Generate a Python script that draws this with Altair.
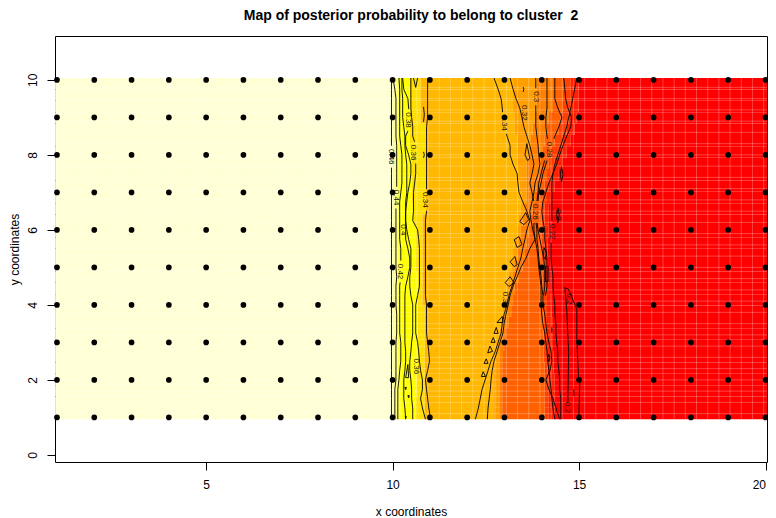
import altair as alt
import pandas as pd
import numpy as np

FONT = "Liberation Sans"
TITLE = "Map of posterior probability to belong to cluster\u00a0 2"

# ---- observation sites
site_x = list(range(1, 21))
site_y = list(range(1, 11))

# ---- image bands: for each of 30 rows (top to bottom) the x where each colour starts
band_colors = ["#FFFFD5", "#FFFF80", "#FFFF2A", "#FFFF00", "#FFDF00", "#FFB700",
               "#FF9F00", "#FF8000", "#FF6000", "#FF4000", "#FF2000", "#FF0000"]
s_80 = [10.0] * 30
s_2a = [10.15] * 30
s_00 = [10.25] * 30
s_df = [10.46,10.46,10.46,10.46,10.46,10.46,10.51,10.51,10.51,10.51,10.51,10.56,10.56,10.62,10.62,
        10.62,10.62,10.67,10.67,10.67,10.67,10.67,10.67,10.67,10.67,10.67,10.64,10.64,10.62,10.62]
s_bf = [10.75,10.75,10.75,10.75,10.88,10.88,10.88,10.88,10.88,10.88,10.88,10.88,10.80,10.80,10.80,
        10.80,10.80,10.80,10.80,10.80,10.86,10.86,10.86,10.86,10.86,10.86,10.86,10.86,10.86,10.86]
s_9f = [13.23,13.23,13.23,13.28,13.28,13.34,13.34,13.34,13.39,13.41,13.47,13.44,13.39,13.34,13.28,
        13.23,13.18,13.12,13.07,13.02,12.96,12.91,12.86,12.80,12.75,12.72,12.72,12.72,12.72,12.72]
s_80b = [13.87,13.87,13.87,13.82,13.76,13.71,13.66,13.60,13.60,13.60,13.60,13.55,13.49,13.44,13.39,
         13.34,13.28,13.23,13.18,13.12,13.07,12.99,12.94,12.88,12.86,12.86,12.86,12.86,12.86,12.86]
s_60 = [14.30,14.30,14.30,14.19,14.14,14.08,14.03,13.98,13.92,13.87,13.82,13.76,13.71,13.66,13.60,
        13.55,13.49,13.39,13.28,13.23,13.18,13.12,13.04,12.99,12.96,12.94,12.94,12.94,12.94,12.94]
s_40 = [14.57,14.57,14.57,14.51,14.46,14.35,14.27,14.19,14.14,14.08,14.03,14.00,14.00,14.00,14.00,
        14.00,14.03,14.03,14.03,14.03,14.05,14.05,14.05,14.05,14.05,14.08,14.08,14.08,14.08,14.08]
s_20 = [14.78,14.78,14.78,14.72,14.67,14.57,14.46,14.35,14.30,14.19,14.14,14.08,14.08,14.08,14.08,
        14.08,14.08,14.11,14.11,14.14,14.14,14.14,14.14,14.14,14.14,14.16,14.19,14.19,14.19,14.19]
s_ff = [14.99,14.99,14.99,14.94,14.88,14.78,14.67,14.57,14.46,14.35,14.27,14.19,14.19,14.19,14.16,
        14.16,14.16,14.19,14.22,14.25,14.27,14.30,14.30,14.30,14.32,14.32,14.35,14.35,14.35,14.35]
band_starts = [s_80, s_2a, s_00, s_df, s_bf, s_9f, s_80b, s_60, s_40, s_20, s_ff]

# ---- contour lines: x at each of these y (a shorter list stops where the line ends)
cy = [10.05,9.75,9.5,9.25,9,8.75,8.5,8.25,8,7.75,7.5,7.25,7,6.75,6.5,6.25,6,5.75,5.5,5.25,5,
      4.75,4.5,4.25,4,3.75,3.5,3.25,3,2.75,2.5,2.25,2,1.75,1.5,1.25,0.95]
c46 = [9.97] * 37
c44 = [10.01,10.06,10.09,10.09,10.09,10.09,10.09,10.11,10.11,10.11,10.11,10.11,10.11,10.09,10.09,10.09,10.09,10.09,10.09,
       10.09,10.09,10.11,10.09,10.09,10.09,10.11,10.11,10.11,10.09,10.09,10.09,10.09,10.09,10.06,10.06,10.06,10.06]
c42 = [10.17,10.19,10.19,10.19,10.19,10.19,10.19,10.22,10.25,10.25,10.25,10.25,10.22,10.19,10.19,10.19,10.19,10.19,10.22,
       10.22,10.22,10.22,10.19,10.19,10.19,10.19,10.19,10.19,10.22,10.22,10.22,10.19,10.17,10.14,10.14,10.14,10.14]
c40 = [10.25,10.25,10.27,10.27,10.27,10.30,10.33,10.33,10.35,10.38,10.38,10.38,10.38,10.35,10.35,10.35,10.35,10.35,10.41,
       10.46,10.46,10.41,10.35,10.33,10.33,10.33,10.33,10.33,10.33,10.35,10.35,10.33,10.30,10.30,10.30,10.33,10.35]
c38 = [10.27,10.30,10.41,10.43,10.46,10.46,10.35,10.35,10.43,10.49,10.49,10.46,10.41,10.38,10.35,10.35,10.38,10.43,10.49,
       10.49,10.49,10.46,10.46,10.49,10.54,10.54,10.54,10.54,10.51,10.49,10.46,10.46,10.49,10.51,10.51,10.54,10.54]
c36 = [10.49,10.49,10.49,10.49,10.51,10.54,10.54,10.62,10.62,10.62,10.62,10.59,10.56,10.56,10.56,10.54,10.67,10.70,10.72,
       10.72,10.72,10.72,10.72,10.67,10.62,10.62,10.62,10.62,10.67,10.70,10.72,10.75,10.80,10.80,10.75,10.80,10.88]
c34a = [10.94,10.94,10.94,10.94,10.94,10.91,10.91,10.91,10.91,10.91,10.91,10.91,10.91,10.91,10.91,10.88,10.88,10.88,10.88,
        10.88,10.88,10.88,10.88,10.88,10.91,10.91,10.91,10.91,10.94,10.97,10.99,10.94,10.88,10.91,10.94,10.97,11.02]
c34b = [12.72,12.83,12.91,12.94,12.96,12.99,13.07,13.15,13.15,13.23,13.34,13.36,13.39,13.49,13.60,13.68,13.60,13.55,13.49,
        13.44,13.36,13.28,13.20,13.12,13.07,12.99,12.94,12.91,12.83,12.75,12.64,12.56,12.48,12.40,12.35,12.30,12.22]
c32 = [13.15,13.23,13.31,13.41,13.47,13.52,13.60,13.68,13.74,13.79,13.74,13.68,13.74,13.79,13.79,13.79,13.79,13.82,13.68,
       13.58,13.44,13.34,13.23,13.15,13.10,13.04,12.99,12.96,12.88,12.80,12.72,12.67,12.64,12.62,12.59,12.56,12.54]
c30 = [13.84,13.84,13.84,13.84,13.84,13.84,13.87,13.90,13.92,13.95,13.90,13.82,13.79,13.74,13.68,13.71,13.76,13.82,13.87,
       13.90,13.92,13.95,13.98,13.98,13.98,14.00,14.03,14.08,14.11,14.14,14.16,14.19,14.22,14.25,14.27,14.30,14.35]
c28 = [14.14,14.14,14.14,14.14,14.11,14.11,14.14,14.19,14.11,14.05,13.98,13.92,13.90,13.87,13.84,13.84,13.87,13.87,13.90,
       13.92,13.95,13.98,14.00,14.03,14.03,14.08,14.11,14.14,14.19,14.25,14.27,14.22,14.11,14.19,14.30,14.38,14.48]
c26 = [14.35,14.35,14.35,14.43,14.54,14.46,14.35,14.27,14.19,14.11,14.03,13.98,13.92,13.90,13.87,13.87,13.90,13.95,14.00,
       14.05,14.08,14.08,14.08,14.05]
c24 = [14.59,14.62,14.64,14.70,14.80,14.78,14.67,14.57,14.48,14.40,14.30,14.19,14.11,14.03,14.00,14.03,14.08,14.08,14.11,
       14.14,14.14,14.14,14.14,14.10]
c22 = [14.94,14.88,14.83,14.78,14.72,14.67,14.59,14.51,14.43,14.35,14.30,14.27,14.27,14.27,14.27,14.27,14.27,14.25,14.25,
       14.25,14.27,14.30,14.30,14.32,14.35,14.35,14.38,14.38,14.40,14.43,14.43,14.46,14.48,14.48,14.51,14.51,14.51]
long_contours = [c46, c44, c42, c40, c38, c36, c34a, c34b, c32, c30, c28, c26, c24, c22]

# ---- contour pieces that do not share the y list: (xs, ys)
pieces = [
    ([14.62,14.67,14.72,14.70], [4.46,3.88,2.73,1.40]),
    ([14.62,14.72,14.94,14.94,14.99,15.02,14.99], [4.46,4.41,3.88,3.08,2.01,1.93,0.95]),
    ([14.53,14.57,14.53,14.50,14.53], [7.68,7.48,7.28,7.48,7.68]),
    ([14.43,14.47,14.43,14.40,14.43], [6.59,6.40,6.19,6.40,6.59]),
    ([14.10,14.17,14.17,14.10,14.10], [5.02,5.02,4.62,4.62,5.02]),
    ([14.06,14.12,14.10,14.05,14.06], [5.53,5.40,5.21,5.30,5.53]),
    ([14.27,14.27], [3.40,3.26]),
    ([14.19,14.22,14.19,14.16,14.19], [2.68,2.58,2.49,2.58,2.68]),
    ([14.86,14.86], [1.75,1.56]),
    ([10.83,10.85,10.83], [9.28,9.08,8.88]),
    ([10.83,10.85,10.83], [8.08,8.00,7.92]),
    ([13.50,13.52,13.50], [9.81,9.75,9.68]),
    ([10.56,10.62,10.67], [10.05,9.80,10.05]),
    ([13.15,13.28,13.34,13.26,13.15], [5.15,5.29,5.07,5.02,5.15]),
    ([13.02,13.15,13.26,13.12,13.02], [4.59,4.75,4.59,4.49,4.59]),
    ([12.80,12.94,12.96,12.80], [3.53,3.69,3.53,3.53]),
    ([12.72,12.78,12.83,12.72], [3.24,3.40,3.24,3.24]),
    ([12.64,12.70,12.75,12.64], [3.00,3.13,3.00,3.00]),
    ([12.55,12.61,12.68,12.55], [2.72,2.90,2.76,2.72]),
    ([12.45,12.51,12.56,12.45], [2.44,2.56,2.44,2.44]),
    ([12.38,12.43,12.49,12.38], [2.09,2.22,2.09,2.09]),
    ([13.26,13.39,13.47,13.34,13.26], [5.74,5.82,5.61,5.53,5.74]),
    ([13.41,13.57,13.65,13.52,13.41], [6.22,6.46,6.27,6.14,6.22]),
    ([13.60,13.68,13.62,13.55,13.60], [8.30,7.90,7.85,8.00,8.30]),
    ([10.41,10.35,10.43,10.41], [2.41,2.06,2.06,2.41]),
    ([10.33,10.37,10.35,10.33], [1.80,1.80,1.74,1.80]),
    ([10.41,10.45,10.43,10.41], [1.58,1.58,1.52,1.58]),
    ([10.33,10.37,10.35], [1.02,1.02,0.97]),
]

# ---- contour labels
label_text = ["0.46","0.44","0.42","0.4","0.38","0.36","0.36","0.34","0.34","0.34",
              "0.32","0.3","0.28","0.26","0.2","0.22","0.2","0.2"]
label_x = [9.97,10.09,10.19,10.27,10.41,10.56,10.62,10.88,12.99,13.02,
           13.52,13.84,14.19,13.82,14.43,14.27,14.72,14.67]
label_y = [7.95,6.86,4.89,6.0,8.93,8.06,2.36,6.80,8.85,4.14,
           9.12,9.55,8.14,6.48,6.40,5.95,4.16,1.26]

x_ticks = [5, 10, 15, 20]
y_ticks = [0, 2, 4, 6, 8, 10]

# ---- assemble tables
X0, X1, Y0, Y1 = 0.95, 20.05, 0.95, 10.05
rows = []
n_rows = len(s_80)
rh = (Y1 - Y0) / n_rows
for r in range(n_rows):
    edges = [X0] + [b[r] for b in band_starts] + [X1]
    for k, col in enumerate(band_colors):
        rows.append(dict(x=edges[k], x2=edges[k + 1], y=Y1 - rh * r, y2=Y1 - rh * (r + 1), band=col))
bands = pd.DataFrame(rows)

seg_rows = []
seg = 0
def add(xs, ys):
    global seg
    for i, (a, b) in enumerate(zip(xs, ys)):
        seg_rows.append(dict(x=a, y=b, seg=seg, i=i))
    seg += 1

for xs in long_contours:
    cy_arr = np.array(cy[:len(xs)])
    xa = np.array(xs)
    end = cy_arr[-1]
    # the line stops where one of its labels sits
    cuts = []
    for tx, ty, t in zip(label_x, label_y, label_text):
        if ty > end and abs(np.interp(-ty, -cy_arr, xa) - tx) < 0.07:
            half = 0.03 + 0.065 * len(t)
            cuts.append((ty - half, ty + half))
    cuts.sort(reverse=True)
    top = Y1
    parts = []
    for lo, hi in cuts:
        parts.append((top, hi))
        top = lo
    parts.append((top, end))
    for hi, lo in parts:
        keep = (cy_arr < hi) & (cy_arr > lo)
        ys = [hi] + list(cy_arr[keep]) + [lo]
        add([float(np.interp(-v, -cy_arr, xa)) for v in ys], ys)
for xs, ys in pieces:
    add(xs, ys)
lines = pd.DataFrame(seg_rows)

pts = pd.DataFrame([dict(x=a, y=b) for a in site_x for b in site_y])
labs = pd.DataFrame(dict(x=label_x, y=label_y, t=label_text))
gx = pd.DataFrame(dict(x=np.arange(X0 + 0.1, X1, 0.3), y=Y0, y2=Y1))
gy = pd.DataFrame(dict(y=np.arange(Y0 + 0.15, Y1, 0.3), x=X0, x2=X1))

xs = alt.Scale(domain=[0.947, 20.04], nice=False, zero=False)
ys = alt.Scale(domain=[-0.19, 11.17], nice=False, zero=False)
x_axis = alt.Axis(
    values=x_ticks, title="x coordinates", grid=False, domain=False, tickColor="black", tickSize=8,
    labelColor="black", labelFont=FONT, labelFontSize=12, labelPadding=9, labelFlush=3,
    labelOverlap=False, format="d", titleFont=FONT, titleFontSize=12, titleFontWeight="normal",
    titleColor="black", titlePadding=16)
y_axis = alt.Axis(
    values=y_ticks, title="y coordinates", grid=False, domain=False, tickColor="black", tickSize=8,
    labelColor="black", labelFont=FONT, labelFontSize=12, labelAngle=270, labelAlign="center",
    labelBaseline="bottom", labelPadding=8, labelOverlap=False, format="d", titleFont=FONT,
    titleFontSize=12, titleFontWeight="normal", titleColor="black", titlePadding=5)
X = alt.X("x:Q", scale=xs, axis=x_axis)
Y = alt.Y("y:Q", scale=ys, axis=y_axis)

band_layer = alt.Chart(bands).mark_rect().encode(
    x=X, x2="x2:Q", y=Y, y2="y2:Q",
    color=alt.Color("band:N", scale=None, legend=None))
grid_v = alt.Chart(gx).mark_rule(color="white", opacity=0.25, strokeWidth=1).encode(x=X, y=Y, y2="y2:Q")
grid_h = alt.Chart(gy).mark_rule(color="white", opacity=0.25, strokeWidth=1).encode(y=Y, x=X, x2="x2:Q")
line_layer = alt.Chart(lines).mark_line(color="black", strokeWidth=0.9, interpolate="linear").encode(
    x=X, y=Y, detail="seg:N", order="i:Q")
label_layer = alt.Chart(labs).mark_text(font=FONT, fontSize=8, angle=90, color="#111111").encode(
    x=X, y=Y, text="t:N")
point_layer = alt.Chart(pts).mark_point(filled=True, color="black", opacity=1, size=32, clip=False).encode(
    x=X, y=Y)

chart = alt.layer(band_layer, grid_v, grid_h, line_layer, label_layer, point_layer).properties(
    width=712, height=426,
    padding={"left": 47, "top": 28, "right": 1, "bottom": 56},
    autosize=alt.AutoSizeParams(type="none"),
    background="white",
    title=alt.TitleParams(TITLE, font=FONT, fontSize=14, fontWeight="bold", color="black",
                          anchor="middle", frame="group", offset=13),
).configure_view(stroke="black", strokeWidth=1)

chart.save("out.html", embed_options={"renderer": "svg", "actions": False})
